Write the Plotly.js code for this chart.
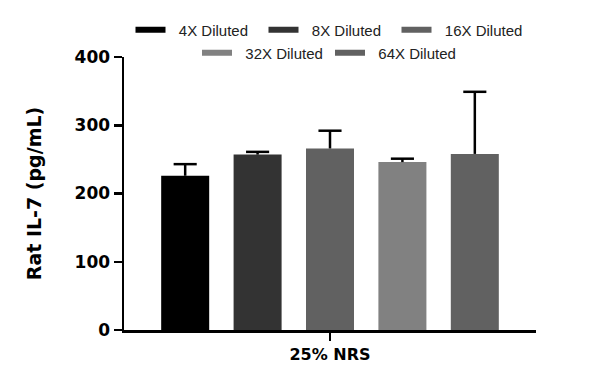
<!DOCTYPE html>
<html>
<head>
<meta charset="utf-8">
<script src="https://cdn.plot.ly/plotly-3.0.1.min.js"></script>
<style>html,body{margin:0;padding:0;background:#fff;}#chart{width:600px;height:385px;}</style>
</head>
<body>
<div id="chart"></div>
<script>
var category = ["25% NRS"];
var seriesNames = ["4X Diluted", "8X Diluted", "16X Diluted", "32X Diluted", "64X Diluted"];
var meanValues = [226, 257, 266, 246, 258];
var errorPlus = [17, 4, 26, 5, 91];
var seriesColors = ["#000000", "#333333", "#616161", "#818181", "#616161"];
var legendGroupOf = ["legend", "legend", "legend", "legend2", "legend2"];
var yTickValues = [0, 100, 200, 300, 400];

var n = seriesNames.length;
var groupCenter = (n - 1) / 2;
var traces = [];
for (var i = 0; i < n; i++) {
  traces.push({
    type: "bar",
    name: seriesNames[i],
    x: [i],
    y: [meanValues[i]],
    width: 0.663,
    marker: {color: seriesColors[i], line: {width: 0}},
    error_y: {type: "data", symmetric: false, array: [errorPlus[i]], arrayminus: [0],
              color: "#000", thickness: 2.5, width: 0},
    showlegend: false,
    hoverinfo: "skip"
  });
}
// error bar caps (top only)
for (var k = 0; k < n; k++) {
  traces.push({
    type: "scatter",
    mode: "markers",
    x: [k],
    y: [meanValues[k] + errorPlus[k]],
    marker: {symbol: "line-ew", size: 16.5, color: "#000", line: {color: "#000", width: 2.5}},
    showlegend: false,
    hoverinfo: "skip",
    cliponaxis: false
  });
}
// legend-only swatches
for (var j = 0; j < n; j++) {
  traces.push({
    type: "scatter",
    mode: "lines",
    name: "\u00a0\u00a0" + seriesNames[j],
    x: [null],
    y: [null],
    line: {color: seriesColors[j], width: 6},
    legend: legendGroupOf[j],
    showlegend: true,
    hoverinfo: "skip"
  });
}

var tickFont = {family: "DejaVu Sans", size: 17, color: "#000", weight: "bold"};
var legendFont = {family: "Liberation Sans, Arial, sans-serif", size: 15, color: "#222"};

var layout = {
  width: 600,
  height: 385,
  margin: {l: 124, r: 64, t: 57, b: 55, autoexpand: false},
  paper_bgcolor: "#fff",
  plot_bgcolor: "#fff",
  barmode: "overlay",
  xaxis: {
    range: [-0.845, 4.845],
    tickvals: [groupCenter],
    ticktext: category,
    showline: true, linecolor: "#000", linewidth: 3,
    ticks: "outside", ticklen: 8, tickwidth: 2.5, tickcolor: "#000",
    tickfont: {family: "DejaVu Sans", size: 16, color: "#000", weight: "bold"},
    showgrid: false, zeroline: false, fixedrange: true
  },
  yaxis: {
    range: [0, 400],
    tickvals: yTickValues,
    showline: true, linecolor: "#000", linewidth: 2.5,
    ticks: "outside", ticklen: 8, tickwidth: 2.5, tickcolor: "#000",
    tickfont: tickFont,
    showgrid: false, zeroline: false, fixedrange: true,
    title: {text: "Rat IL-7 (pg/mL)", font: {family: "DejaVu Sans", size: 19, color: "#000", weight: "bold"}, standoff: 28}
  },
  legend: {
    orientation: "h", x: 0.5, xanchor: "center", y: 1.099, yanchor: "middle",
    font: legendFont, entrywidth: 88, itemwidth: 30, bgcolor: "rgba(0,0,0,0)"
  },
  legend2: {
    orientation: "h", x: 0.5, xanchor: "center", y: 1.0147, yanchor: "middle",
    font: legendFont, entrywidth: 88, itemwidth: 30, bgcolor: "rgba(0,0,0,0)"
  },
  showlegend: true
};

Plotly.newPlot("chart", traces, layout, {displayModeBar: false, staticPlot: true});
</script>
</body>
</html>
